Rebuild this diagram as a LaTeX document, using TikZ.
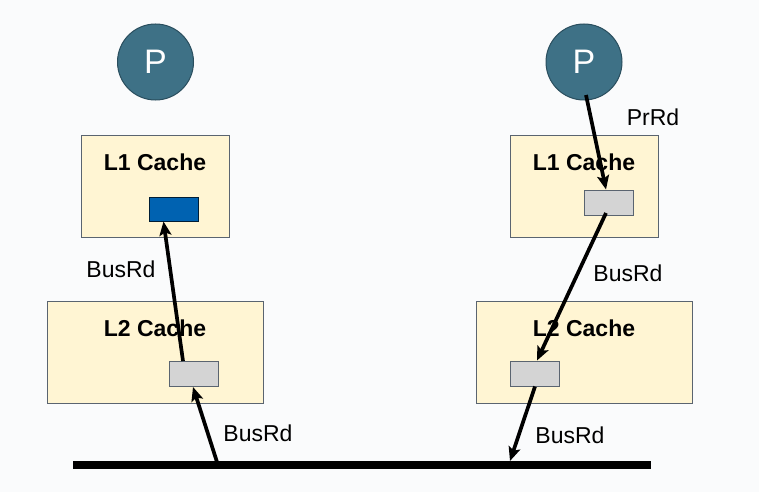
\documentclass[tikz,border=0pt]{standalone}
\usepackage{fontspec}
\setmainfont{Liberation Sans}
\usetikzlibrary{arrows.meta}
\definecolor{pfill}{HTML}{3E7186}
\definecolor{pdraw}{HTML}{2A4E5E}
\definecolor{boxfill}{HTML}{FFF5D3}
\definecolor{boxdraw}{HTML}{5A6470}
\definecolor{blk}{HTML}{0062B1}
\definecolor{gry}{HTML}{D4D4D4}
\definecolor{bg}{HTML}{FAFBFC}
\tikzset{
  proc/.style={circle,fill=pfill,draw=pdraw,line width=1pt,minimum size=76pt,inner sep=0pt,text=white,font=\fontsize{34}{34}\selectfont},
  cachebox/.style={rectangle,fill=boxfill,draw=boxdraw,line width=1pt,inner sep=0pt},
  title/.style={font=\fontsize{23}{23}\selectfont\bfseries},
  lbl/.style={font=\fontsize{23}{23}\selectfont},
  bluel/.style={rectangle,fill=blk,draw=black!70!blk,line width=1pt,minimum width=49pt,minimum height=24pt,inner sep=0pt},
  grayl/.style={rectangle,fill=gry,draw=boxdraw,line width=1pt,minimum width=49pt,minimum height=25pt,inner sep=0pt},
  arr/.style={line width=3.7pt,-{Stealth[length=14pt,width=12pt,inset=3pt]}},
}
\begin{document}
\begin{tikzpicture}[x=1pt,y=-1pt]
\fill[bg] (0,0) rectangle (759,492);
\useasboundingbox (0,0) rectangle (759,492);
% processors
\node[proc] (p1) at (155.5,62) {P};
\node[proc] (p2) at (584,62) {P};
% L1 caches
\node[cachebox,minimum width=148pt,minimum height=102pt] (l1a) at (155,186) {};
\node[cachebox,minimum width=148pt,minimum height=102pt] (l1b) at (584,186) {};
\node[title] (t1a) at (155,162) {L1 Cache};
\node[title] (t1b) at (584,162) {L1 Cache};
% L2 caches
\node[cachebox,minimum width=216pt,minimum height=102pt] (l2a) at (155,352) {};
\node[cachebox,minimum width=216pt,minimum height=102pt] (l2b) at (584,352) {};
\node[title] (t2a) at (155,328) {L2 Cache};
\node[title] (t2b) at (584,328) {L2 Cache};
% lines
\node[bluel] (ba) at (173.5,209) {};
\node[grayl] (ga) at (608.5,202.5) {};
\node[grayl] (gl2a) at (193.5,373.5) {};
\node[grayl] (gl2b) at (534.5,373.5) {};
% bus
\coordinate (busL) at (73,464.7);
\coordinate (busR) at (651,464.7);
\draw[line width=8pt] (busL) -- (busR);
\coordinate (b1) at (217,462);
\coordinate (b2) at (510,461);
% arrows
\draw[arr] (b1) -- (193,387);
\draw[arr] (183,361) -- (163.5,221.5);
\draw[arr] (586,95) -- (606,189.5);
\draw[arr] (606,213) -- (537,360.5);
\draw[arr] (535,386.5) -- (b2);
% labels
\node[lbl] (lab1) at (121,269) {BusRd};
\node[lbl] (lab2) at (258,433) {BusRd};
\node[lbl] (lab3) at (628,273) {BusRd};
\node[lbl] (lab4) at (570,435) {BusRd};
\node[lbl] (lab5) at (653,117) {PrRd};
\end{tikzpicture}
\end{document}
